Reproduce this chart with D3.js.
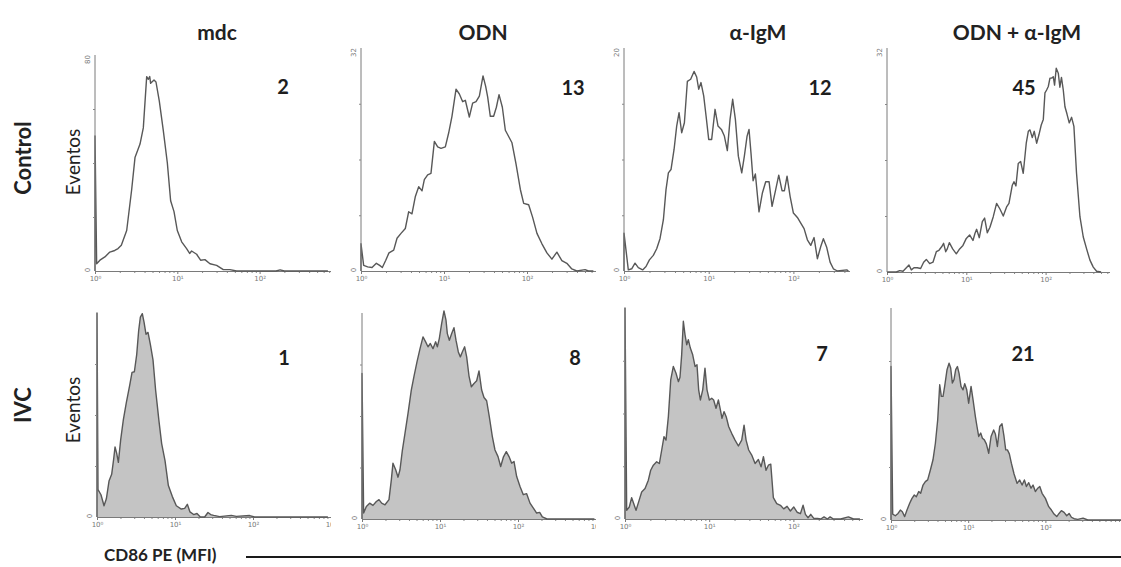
<!DOCTYPE html>
<html><head><meta charset="utf-8">
<script src="https://cdn.jsdelivr.net/npm/d3@7"></script>
<style>body{margin:0;background:#fff}svg{display:block}</style>
</head><body><svg id="c" width="1121" height="567"></svg>
<script>
// ---------- DATA ----------
const columnTitles = ["mdc", "ODN", "α-IgM", "ODN + α-IgM"];
const rowTitles = ["Control", "IVC"];
const yAxisTitle = "Eventos";
const xAxisTitle = "CD86 PE (MFI)";
const mfiControl = [2, 13, 12, 45];
const mfiIVC = [1, 8, 7, 21];
const yMaxControl = [80, 32, 20, 32];
const yMaxIVC = [100, 100, 100, 100];
const decadeTicks = [1, 10, 100, 1000];
const decadeLabels = ["10\u2070", "10\u00b9", "10\u00b2", "10\u00b3"];
const minorMultipliers = [2, 3, 4, 5, 6, 7, 8, 9];

// histograms: [log10(CD86 PE), events]
const ctrlMdc = [[0,50],[0.02,2.7],[0.06,4],[0.12,5.2],[0.18,7],[0.24,7.6],[0.28,8.3],[0.32,9.5],[0.385,15],[0.445,30],[0.486,42],[0.547,47],[0.587,53],[0.628,72],[0.648,71],[0.665,72],[0.676,69.5],[0.717,70.7],[0.741,70],[0.781,63],[0.83,52],[0.879,40],[0.919,26],[0.96,22],[1.0,15],[1.053,10.8],[1.113,8.3],[1.15,6.5],[1.174,7.4],[1.235,6.2],[1.283,4],[1.336,4.2],[1.397,2.7],[1.478,2.1],[1.559,0.5],[1.64,0.5],[1.72,0],[2.2,0],[2.25,0.4],[2.3,0],[2.83,0]];
const ctrlOdn = [[0,3.9],[0.032,0.8],[0.08,0.6],[0.133,0.5],[0.185,1.1],[0.225,0.8],[0.257,0.5],[0.297,1.5],[0.337,2.6],[0.394,3.0],[0.434,4.7],[0.482,5.4],[0.534,6.1],[0.574,8.5],[0.614,8.2],[0.655,10.7],[0.695,12.1],[0.735,11.5],[0.763,13.1],[0.803,13.8],[0.843,14.0],[0.884,18.6],[0.924,17.8],[0.964,17.6],[1.016,17.8],[1.056,19.8],[1.096,22.2],[1.145,26.1],[1.185,25.4],[1.225,24.3],[1.257,24.5],[1.305,22.1],[1.345,24.1],[1.386,24.3],[1.426,25.1],[1.47,28.0],[1.502,26.5],[1.526,25.0],[1.558,22.2],[1.598,22.2],[1.631,23.5],[1.663,25.3],[1.703,23.5],[1.739,20.2],[1.779,19.3],[1.819,18.4],[1.867,15.4],[1.92,11.7],[1.96,9.7],[2.02,9.5],[2.068,7.7],[2.12,5.4],[2.18,3.9],[2.24,2.6],[2.30,1.7],[2.36,2.7],[2.42,1.5],[2.48,1.1],[2.54,0.3],[2.60,0],[2.70,0.2],[2.74,0],[2.8,0]];
const ctrlIgm = [[0,3.4],[0.051,0.1],[0.091,0.2],[0.13,0.7],[0.169,0.3],[0.22,0.1],[0.26,0.4],[0.30,1.0],[0.346,1.4],[0.386,2.0],[0.425,2.9],[0.465,4.6],[0.496,7.3],[0.524,8.8],[0.555,9.1],[0.591,10.9],[0.622,13.0],[0.65,14.2],[0.681,12.4],[0.713,13.3],[0.748,17.0],[0.787,17.2],[0.827,17.9],[0.858,17.4],[0.882,16.3],[0.909,16.9],[0.941,15.7],[0.969,13.9],[1.0,11.8],[1.035,11.8],[1.075,14.5],[1.11,13.0],[1.15,12.7],[1.185,12.1],[1.22,10.8],[1.252,13.6],[1.283,15.4],[1.315,13.6],[1.35,10.3],[1.39,8.8],[1.421,10.3],[1.453,12.1],[1.476,12.7],[1.5,10.5],[1.524,8.1],[1.551,8.7],[1.594,5.3],[1.634,7.0],[1.673,8.0],[1.713,8.0],[1.748,5.8],[1.791,7.3],[1.827,8.6],[1.866,7.2],[1.894,7.2],[1.925,8.5],[1.961,6.7],[2.0,5.2],[2.047,4.8],[2.087,4.3],[2.126,3.8],[2.165,2.8],[2.205,2.3],[2.244,3.0],[2.283,1.1],[2.323,2.2],[2.354,2.9],[2.394,2.1],[2.433,0.8],[2.472,0.2],[2.52,0],[2.63,0.1],[2.65,0]];
const ctrlCombo = [[0,0],[0.118,0],[0.16,0.2],[0.202,0.1],[0.244,0.6],[0.277,1.0],[0.307,0.3],[0.34,0.6],[0.382,0.6],[0.424,0.5],[0.462,1.4],[0.496,1.8],[0.538,1.2],[0.58,1.4],[0.622,2.9],[0.655,3.1],[0.689,3.6],[0.714,4.1],[0.74,2.9],[0.76,3.3],[0.786,4.2],[0.828,3.3],[0.874,2.6],[0.916,3.3],[0.958,3.8],[1.0,4.8],[1.042,5.3],[1.084,4.5],[1.109,5.5],[1.13,6.1],[1.164,4.9],[1.202,7.2],[1.231,7.7],[1.265,5.6],[1.298,6.4],[1.34,7.9],[1.382,9.8],[1.424,9.0],[1.466,8.0],[1.508,9.3],[1.538,9.8],[1.58,12.4],[1.601,12.9],[1.626,12.3],[1.655,15.5],[1.685,15.8],[1.718,14.1],[1.756,18.4],[1.782,20.1],[1.803,20.3],[1.832,19.2],[1.857,20.1],[1.887,18.4],[1.916,19.6],[1.945,21.0],[1.971,21.8],[1.992,25.6],[2.013,26.0],[2.034,26.5],[2.055,27.7],[2.076,27.7],[2.097,27.9],[2.113,26.7],[2.134,29.1],[2.16,28.4],[2.18,26.4],[2.2,27.8],[2.223,26.0],[2.244,23.6],[2.269,22.6],[2.298,21.3],[2.328,22.1],[2.357,20.8],[2.39,14.1],[2.433,7.9],[2.475,5.0],[2.517,3.3],[2.559,1.7],[2.601,0.7],[2.643,0.1],[2.70,0]];
const ivcMdc = [[0,100],[0.013,13.4],[0.051,10.9],[0.09,5.5],[0.12,8.9],[0.154,17.6],[0.188,20.9],[0.214,28.5],[0.231,34.3],[0.252,31.3],[0.274,26.8],[0.303,37.7],[0.338,47.7],[0.376,56.1],[0.419,64.5],[0.449,70.9],[0.479,71.2],[0.509,79.6],[0.534,91.3],[0.556,98.0],[0.581,99.7],[0.603,95.5],[0.628,89.6],[0.654,90.5],[0.684,84.6],[0.718,77.0],[0.752,62.0],[0.769,56.1],[0.795,46.9],[0.829,36.0],[0.872,27.6],[0.915,15.4],[0.966,10.0],[1.017,5.5],[1.081,3.9],[1.124,4.2],[1.158,6.2],[1.192,2.5],[1.239,1.2],[1.282,1.7],[1.325,0],[1.38,0],[1.423,2.2],[1.457,1.2],[1.496,0.8],[1.573,0.2],[1.722,0.8],[1.786,0.3],[1.957,0.7],[2.02,0],[2.96,0]];
const ivcOdn = [[0,70.6],[0.021,2.9],[0.056,6.1],[0.098,7.7],[0.141,6.6],[0.184,8.5],[0.218,9.4],[0.252,7.7],[0.295,6.9],[0.346,9.4],[0.376,19.0],[0.397,27.1],[0.432,23.9],[0.462,20.3],[0.487,23.9],[0.517,33.2],[0.551,41.6],[0.59,51.3],[0.632,62.6],[0.667,69.4],[0.705,76.3],[0.744,82.7],[0.782,88.4],[0.816,86.0],[0.846,83.6],[0.876,85.2],[0.91,82.7],[0.944,86.0],[0.966,83.6],[0.991,87.6],[1.021,94.8],[1.051,101],[1.077,96.5],[1.094,90.0],[1.12,86.8],[1.15,90.0],[1.179,92.9],[1.205,86.8],[1.235,81.1],[1.261,78.7],[1.286,81.1],[1.316,83.6],[1.342,78.7],[1.372,69.4],[1.402,64.2],[1.436,65.8],[1.47,67.1],[1.5,71.9],[1.534,62.6],[1.564,59.0],[1.598,57.4],[1.632,49.7],[1.671,40.0],[1.705,33.5],[1.744,30.3],[1.778,25.5],[1.812,30.0],[1.85,32.7],[1.885,30.3],[1.919,27.1],[1.949,27.9],[1.983,20.6],[2.026,15.8],[2.068,11.8],[2.111,12.3],[2.154,7.7],[2.197,5.3],[2.239,2.9],[2.278,3.2],[2.312,1.0],[2.372,0],[2.98,0]];
const ivcIgm = [[0,100],[0.02,4.1],[0.051,5.7],[0.079,10.1],[0.103,7.3],[0.131,4.1],[0.162,8.1],[0.198,12.8],[0.238,14.4],[0.277,18.4],[0.305,23.1],[0.337,25.5],[0.376,27.1],[0.408,26.3],[0.436,32.7],[0.463,39.0],[0.487,37.4],[0.515,48.5],[0.543,65.9],[0.574,72.3],[0.606,69.1],[0.634,65.1],[0.653,67.2],[0.673,77.8],[0.693,93.7],[0.713,87.3],[0.733,82.6],[0.752,85.0],[0.776,81.0],[0.804,77.8],[0.832,72.3],[0.855,73.1],[0.875,61.2],[0.895,56.4],[0.923,61.2],[0.95,71.5],[0.974,61.2],[1.002,56.4],[1.03,57.2],[1.053,56.4],[1.081,52.5],[1.109,56.4],[1.133,51.7],[1.152,47.7],[1.176,50.9],[1.204,48.2],[1.232,43.7],[1.267,40.6],[1.307,37.4],[1.347,34.6],[1.386,37.4],[1.414,44.5],[1.438,37.4],[1.469,32.7],[1.505,30.3],[1.545,26.3],[1.584,28.2],[1.616,24.7],[1.644,29.5],[1.675,23.1],[1.703,25.5],[1.731,26.0],[1.762,10.1],[1.802,7.3],[1.846,6.5],[1.885,4.8],[1.925,6.0],[1.964,3.8],[2.004,5.7],[2.044,3.2],[2.083,2.5],[2.115,6.5],[2.143,2.2],[2.174,0.6],[2.206,2.2],[2.242,0.3],[2.285,0.3],[2.325,0],[2.364,1.0],[2.404,0],[2.436,1.0],[2.475,0],[2.562,0],[2.653,1.0],[2.713,0],[2.79,0]];
const ivcCombo = [[0,72.4],[0.022,2.8],[0.056,2.0],[0.091,3.1],[0.121,4.7],[0.147,3.9],[0.177,1.6],[0.207,4.7],[0.242,7.9],[0.272,10.2],[0.302,11.8],[0.328,11.0],[0.359,13.4],[0.384,12.6],[0.415,16.5],[0.445,18.1],[0.475,18.9],[0.51,23.6],[0.544,28.4],[0.575,36.2],[0.605,47.3],[0.631,63.8],[0.652,58.3],[0.674,58.3],[0.695,63.0],[0.726,70.9],[0.752,74.0],[0.773,71.7],[0.795,64.6],[0.816,66.2],[0.838,70.9],[0.86,72.4],[0.881,69.3],[0.907,63.0],[0.933,61.4],[0.955,64.3],[0.981,61.4],[1.006,55.1],[1.037,63.0],[1.063,56.7],[1.093,48.8],[1.114,44.1],[1.136,39.4],[1.162,41.0],[1.184,38.6],[1.209,37.8],[1.235,35.9],[1.266,31.5],[1.296,39.4],[1.33,42.5],[1.352,40.6],[1.378,34.7],[1.408,44.1],[1.438,45.4],[1.464,39.4],[1.486,33.1],[1.508,33.1],[1.533,31.2],[1.559,26.8],[1.594,21.7],[1.633,17.3],[1.667,18.9],[1.698,16.5],[1.728,18.9],[1.754,15.8],[1.784,17.6],[1.814,15.0],[1.84,16.5],[1.87,13.4],[1.901,15.0],[1.927,15.8],[1.957,12.6],[2.0,10.2],[2.043,6.3],[2.078,4.7],[2.112,2.8],[2.147,1.6],[2.177,3.1],[2.207,4.4],[2.242,3.6],[2.276,2.0],[2.307,3.1],[2.337,1.3],[2.372,0.6],[2.419,0.3],[2.488,0.9],[2.549,0],[2.98,0]];

// ---------- LAYOUT (positions only) ----------
const topBoxes = [
  {x0:95,  dec:82.3, yTop:55, yBase:271, xEnd:328,  vx:283,  vy:86},
  {x0:361, dec:83.0, yTop:48, yBase:271, xEnd:593,  vx:573,  vy:87},
  {x0:624, dec:84.7, yTop:48, yBase:271, xEnd:847,  vx:820,  vy:87},
  {x0:887, dec:79.3, yTop:48, yBase:272, xEnd:1107, vx:1024, vy:87}
];
const bottomBoxes = [
  {x0:97,  dec:78.0, yTop:313, yBase:517, xEnd:328,  vx:284,  vy:357},
  {x0:362, dec:78.0, yTop:313, yBase:519, xEnd:593,  vx:575,  vy:357},
  {x0:625, dec:84.2, yTop:308, yBase:519, xEnd:860,  vx:822,  vy:353},
  {x0:891, dec:77.2, yTop:308, yBase:520, xEnd:1121, vx:1023, vy:353}
];
const titleX = [217, 483, 758, 1017];
const WIDTH = 1121;
const FONT = "Lato, 'Open Sans', sans-serif";

const svg = d3.select("#c");
const controlSeries = [ctrlMdc, ctrlOdn, ctrlIgm, ctrlCombo];
const ivcSeries = [ivcMdc, ivcOdn, ivcIgm, ivcCombo];

function panel(i, box, series, yMax, mfi, filled, showTopLabel) {
  const g = svg.append("g");
  const x = d3.scaleLog().domain([1, 1000]).range([box.x0, box.x0 + 3 * box.dec]);
  const y = d3.scaleLinear().domain([0, yMax]).range([box.yBase, box.yTop]);
  const id = "clip" + (filled ? "b" : "t") + i;
  svg.append("clipPath").attr("id", id).append("rect")
    .attr("x", box.x0 - 30).attr("y", box.yTop - 20)
    .attr("width", box.xEnd - box.x0 + 33).attr("height", box.yBase - box.yTop + 40);
  const inner = g.append("g").attr("clip-path", `url(#${id})`);
  const pts = [[0, 0]].concat(series);
  if (filled) {
    inner.append("path").datum(pts)
      .attr("d", d3.area().x(d => x(Math.pow(10, d[0]))).y0(box.yBase).y1(d => y(d[1])))
      .attr("fill", "#c4c4c4");
  }
  // minor ticks
  const minors = [];
  [1, 10, 100].forEach(p => minorMultipliers.forEach(m => minors.push(m * p)));
  const minorAxis = inner.append("g").attr("transform", `translate(0,${box.yBase})`)
    .call(d3.axisBottom(x).tickValues(minors).tickSize(2).tickFormat(""));
  minorAxis.select(".domain").remove();
  minorAxis.selectAll("line").attr("stroke", "#888");
  const majors = decadeTicks.filter(v => x(v) <= box.xEnd + 6 && x(v) + 6 <= WIDTH);
  const majorAxis = inner.append("g").attr("transform", `translate(0,${box.yBase})`)
    .call(d3.axisBottom(x).tickValues(majors).tickSize(3).tickSizeOuter(0).tickPadding(2)
      .tickFormat(v => decadeLabels[decadeTicks.indexOf(v)]));
  majorAxis.select(".domain").attr("stroke", "#7a7a7a");
  majorAxis.selectAll("line").attr("stroke", "#7a7a7a");
  majorAxis.selectAll("text").attr("font-family", "'DejaVu Sans', sans-serif")
    .attr("font-size", 7).attr("fill", "#777");
  // histogram outline
  inner.append("path").datum(pts)
    .attr("d", d3.line().x(d => x(Math.pow(10, d[0]))).y(d => y(d[1])))
    .attr("fill", "none").attr("stroke", "#585858").attr("stroke-width", 1.4)
    .attr("stroke-linejoin", "round");
  // y axis
  const ya = g.append("g").attr("transform", `translate(${box.x0},0)`)
    .call(d3.axisLeft(y).tickValues([yMax / 4, yMax / 2, 3 * yMax / 4]).tickSize(2).tickSizeOuter(0).tickFormat(""));
  ya.select(".domain").attr("stroke", "#7a7a7a").attr("d", `M0,${box.yTop}V${box.yBase}`);
  ya.selectAll("line").attr("stroke", "#888");
  const small = (txt, yy, anchor) => g.append("text")
    .attr("transform", `translate(${box.x0 - 7},${yy}) rotate(-90)`)
    .attr("text-anchor", anchor).attr("dominant-baseline", "central")
    .attr("font-family", "'DejaVu Sans', sans-serif").attr("font-size", 7).attr("fill", "#777")
    .text(txt);
  small("0", box.yBase - 1, "middle");
  if (showTopLabel) small(String(yMax), box.yTop, "end");
  // value label
  g.append("text").attr("x", box.vx).attr("y", box.vy)
    .attr("text-anchor", "middle").attr("dominant-baseline", "central")
    .attr("font-family", FONT).attr("font-weight", 700).attr("font-size", 20).attr("fill", "#1e1e1e")
    .text(mfi);
}

controlSeries.forEach((s, i) => panel(i, topBoxes[i], s, yMaxControl[i], mfiControl[i], false, true));
ivcSeries.forEach((s, i) => panel(i, bottomBoxes[i], s, yMaxIVC[i], mfiIVC[i], true, false));

// column titles
columnTitles.forEach((t, i) => svg.append("text").attr("x", titleX[i]).attr("y", 40)
  .attr("text-anchor", "middle").attr("font-family", FONT).attr("font-weight", 700)
  .attr("font-size", 21).attr("fill", "#222").text(t));

// row titles and y labels
const rowCenters = [158, 405];
const yTitleCenters = [162, 410];
rowTitles.forEach((t, i) => {
  svg.append("text").attr("transform", `translate(22,${rowCenters[i]}) rotate(-90)`)
    .attr("text-anchor", "middle").attr("dominant-baseline", "central")
    .attr("font-family", FONT).attr("font-weight", 700).attr("font-size", 22).attr("fill", "#222").text(t);
  svg.append("text").attr("transform", `translate(72,${yTitleCenters[i]}) rotate(-90)`)
    .attr("text-anchor", "middle").attr("dominant-baseline", "central")
    .attr("font-family", FONT).attr("font-size", 19).attr("fill", "#222").text(yAxisTitle);
});

// x axis title and arrow line
svg.append("text").attr("x", 104).attr("y", 561).attr("font-family", FONT).attr("font-weight", 700)
  .attr("font-size", 17).attr("fill", "#222").text(xAxisTitle);
svg.append("line").attr("x1", 246).attr("x2", 1121).attr("y1", 557).attr("y2", 557)
  .attr("stroke", "#1a1a1a").attr("stroke-width", 2);
</script></body></html>
